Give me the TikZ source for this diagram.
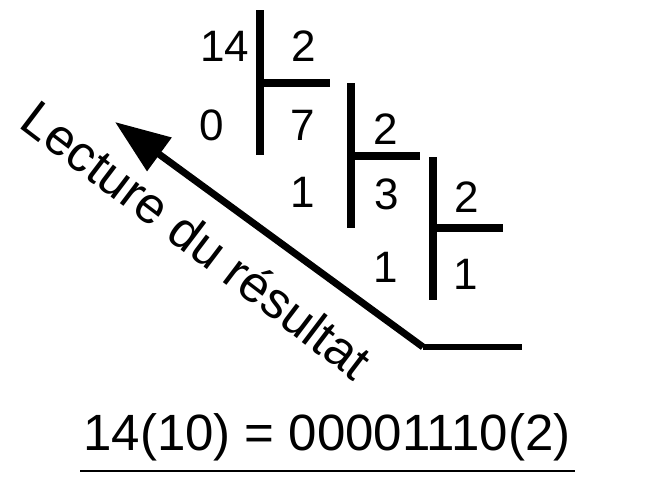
\documentclass[tikz,border=0pt]{standalone}
\usepackage{fontspec}
\setmainfont{Liberation Sans}
\usetikzlibrary{arrows.meta}
\begin{document}
\begin{tikzpicture}[x=1pt,y=-1pt,
  bar/.style={line width=8pt},
  num/.style={inner sep=0pt,font=\fontsize{44}{46}\selectfont},
  every node/.append style={text=black}]
\useasboundingbox (0,0) rectangle (646,477);
% division bars
\coordinate (v1t) at (260,10); \coordinate (v1b) at (260,155); \coordinate (h1) at (330,83);
\coordinate (v2t) at (351,83); \coordinate (v2b) at (351,228); \coordinate (h2) at (420,156);
\coordinate (v3t) at (433,157); \coordinate (v3b) at (433,300); \coordinate (h3) at (503,228);
\draw[bar] (v1t) -- (v1b);
\draw[bar] (v1t |- h1) -- (h1);
\draw[bar] (v2t) -- (v2b);
\draw[bar] (v2t |- h2) -- (h2);
\draw[bar] (v3t) -- (v3b);
\draw[bar] (v3t |- h3) -- (h3);
% numbers
\node[num] (n14) at (225,46) {14};
\node[num] (d1) at (304,46) {2};
\node[num] (r0) at (212,125) {0};
\node[num] (n7) at (303,125) {7};
\node[num] (d2) at (386,129) {2};
\node[num] (r1a) at (303,192) {1};
\node[num] (n3) at (387,194) {3};
\node[num] (d3) at (467,197) {2};
\node[num] (r1b) at (386,267) {1};
\node[num] (n1) at (466,274) {1};
% reading arrow
\coordinate (corner) at (423,347);
\coordinate (tip) at (115,122);
\coordinate (rend) at (522,347);
\draw[line width=6pt] (corner) -- (rend);
\draw[line width=7pt,-{Triangle[length=55pt,width=40pt]}] (corner) -- (tip);
\node[inner sep=0pt,anchor=base,rotate=-37.2,font=\fontsize{51}{54}\selectfont] (lbl) at (186,254) {Lecture du résultat};
% result
\node[inner sep=0pt,font=\fontsize{51}{55}\selectfont] (res) at (327,437) {14(10) = 00001110(2)};
\coordinate (ul) at (80,471); \coordinate (ur) at (575,471);
\draw[line width=2pt] (ul) -- (ur);
\end{tikzpicture}
\end{document}
